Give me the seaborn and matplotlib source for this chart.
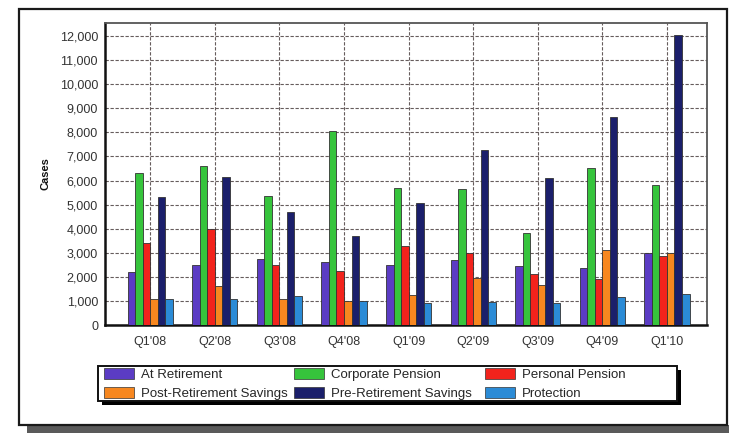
import pandas as pd
import seaborn as sns
import matplotlib
matplotlib.use("Agg")
import matplotlib.pyplot as plt
from matplotlib.patches import Patch, Rectangle
from matplotlib.ticker import MultipleLocator

# chart data
quarters = ["Q1'08", "Q2'08", "Q3'08", "Q4'08", "Q1'09", "Q2'09", "Q3'09", "Q4'09", "Q1'10"]
products = ["At Retirement", "Corporate Pension", "Personal Pension",
            "Post-Retirement Savings", "Pre-Retirement Savings", "Protection"]

at_retirement = [2200, 2500, 2750, 2600, 2500, 2700, 2450, 2350, 3000]
corporate_pension = [6300, 6600, 5350, 8050, 5700, 5650, 3800, 6500, 5800]
personal_pension = [3400, 4000, 2500, 2250, 3300, 3000, 2100, 1900, 2850]
post_retirement = [1070, 1600, 1070, 1000, 1250, 1950, 1650, 3100, 3000]
pre_retirement = [5300, 6150, 4700, 3700, 5050, 7250, 6100, 8650, 12050]
protection = [1100, 1100, 1200, 1000, 900, 950, 900, 1150, 1300]

y_ticks = list(range(0, 13000, 1000))

colours = ["#5b3cc4", "#36c43c", "#f2231c", "#f7871f", "#1b1f6b", "#2b8bd6"]

series = [at_retirement, corporate_pension, personal_pension,
          post_retirement, pre_retirement, protection]
rows = []
for name, vals in zip(products, series):
    for q, v in zip(quarters, vals):
        rows.append({"quarter": q, "product": name, "cases": v})
df = pd.DataFrame(rows)

sns.set_style("white")
plt.rcParams["font.family"] = ["Liberation Sans", "DejaVu Sans"]

W, H = 729, 433
fig = plt.figure(figsize=(W / 100, H / 100), dpi=100)
fig.patch.set_facecolor("white")


def fig_rect(x0, y0, x1, y1, **kw):
    # rectangle given in pixel coords from the top left
    r = Rectangle((x0 / W, 1 - y1 / H), (x1 - x0) / W, (y1 - y0) / H,
                  transform=fig.transFigure, **kw)
    fig.patches.append(r)
    return r


# outer panel frame and shadow
fig_rect(27, 425, 729, 433, facecolor="#5a5a5a", edgecolor="none", zorder=0)
fig_rect(19, 9, 727, 425, fill=False, edgecolor="#1a1a1a", lw=1.6, zorder=1)

ax = fig.add_axes([105 / W, 1 - 325 / H, 602 / W, 302 / H])

sns.barplot(data=df, x="quarter", y="cases", hue="product", hue_order=products,
            order=quarters, palette=dict(zip(products, colours)), saturation=1,
            width=0.7, edgecolor="#333333", linewidth=0.6, legend=False, ax=ax, zorder=3)

ax.set_xlim(-0.7, 8.62)
ax.set_ylim(0, 12540)
ax.set_yticks(y_ticks)
ax.set_yticklabels([f"{v:,}" for v in y_ticks])
ax.grid(True, axis="both", which="major", color="#665c5c",
        linestyle=(0, (3, 1.5)), linewidth=0.8, zorder=0)
ax.set_axisbelow(True)

# faint minor ticks like the original
ax.xaxis.set_minor_locator(MultipleLocator(0.25))
ax.yaxis.set_minor_locator(MultipleLocator(250))
ax.tick_params(axis="x", which="minor", length=2.5, width=0.6, color="#999999", direction="out")
ax.tick_params(axis="y", which="minor", length=2, width=0.6, color="#999999", direction="in")

ax.tick_params(axis="y", which="major", length=0, pad=5, labelsize=9, labelcolor="#333333")
ax.tick_params(axis="x", which="major", length=0, pad=8, labelsize=9, labelcolor="#333333")
ax.set_xlabel("")
ax.set_ylabel("Cases", fontsize=8, fontweight="bold", color="#111111")
ax.yaxis.set_label_coords(-0.091, 0.5)

for side in ["left", "bottom"]:
    ax.spines[side].set_color("#111111")
    ax.spines[side].set_linewidth(1.8)
for side in ["top", "right"]:
    ax.spines[side].set_color("#555555")
    ax.spines[side].set_linewidth(1.3)

# legend box with a hard black shadow, then three columns of two entries
fig_rect(102, 370, 681, 405, facecolor="black", edgecolor="none", zorder=2)
fig_rect(98, 366, 677, 401, facecolor="white", edgecolor="#111111", lw=1.4, zorder=3)

handles = [Patch(facecolor=c, edgecolor="#333333", lw=0.5) for c in colours]
col_x = [104, 294, 485]
for k, x in enumerate(col_x):
    idx = [k, k + 3]
    leg = fig.legend([handles[i] for i in idx], [products[i] for i in idx],
                     loc="upper left", bbox_to_anchor=(x / W, 1 - 368 / H),
                     bbox_transform=fig.transFigure, fontsize=9.5, frameon=False,
                     handlelength=2.3, handleheight=0.9, handletextpad=0.5,
                     labelspacing=0.42, borderpad=0, borderaxespad=0)
    leg.set_zorder(4)

fig.savefig("out.png", dpi=100, facecolor="white")
